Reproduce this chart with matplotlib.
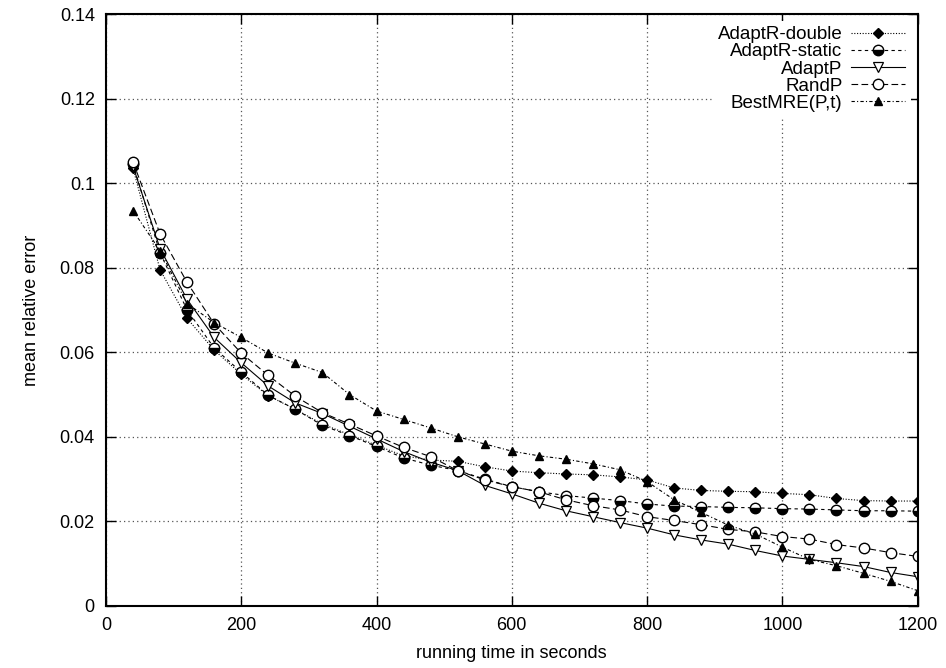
import matplotlib.pyplot as plt

plt.rcParams["font.family"] = ["Liberation Sans", "DejaVu Sans"]

# running time (s)
times = [40, 80, 120, 160, 200, 240, 280, 320, 360, 400,
         440, 480, 520, 560, 600, 640, 680, 720, 760, 800,
         840, 880, 920, 960, 1000, 1040, 1080, 1120, 1160, 1200]

adaptr_double = [0.1035, 0.0795, 0.0680, 0.0605, 0.0548, 0.0497, 0.0465, 0.0430, 0.0405, 0.0380,
                 0.0355, 0.0345, 0.0342, 0.0329, 0.0319, 0.0315, 0.0312, 0.0310, 0.0305, 0.0298,
                 0.0279, 0.0273, 0.0271, 0.0270, 0.0266, 0.0263, 0.0254, 0.0249, 0.0248, 0.0248]

adaptr_static = [0.1045, 0.0835, 0.0700, 0.0610, 0.0553, 0.0498, 0.0465, 0.0427, 0.0403, 0.0377,
                 0.0350, 0.0333, 0.0320, 0.0300, 0.0282, 0.0270, 0.0261, 0.0255, 0.0249, 0.0241,
                 0.0236, 0.0235, 0.0233, 0.0232, 0.0230, 0.0229, 0.0227, 0.0225, 0.0225, 0.0224]

adaptp = [0.1040, 0.0845, 0.0725, 0.0635, 0.0575, 0.0520, 0.0480, 0.0455, 0.0425, 0.0395,
          0.0365, 0.0340, 0.0320, 0.0285, 0.0265, 0.0243, 0.0225, 0.0211, 0.0197, 0.0184,
          0.0168, 0.0156, 0.0146, 0.0131, 0.0118, 0.0110, 0.0102, 0.0093, 0.0079, 0.0069]

randp = [0.1050, 0.0880, 0.0765, 0.0667, 0.0598, 0.0545, 0.0496, 0.0457, 0.0430, 0.0402,
         0.0375, 0.0353, 0.0320, 0.0298, 0.0282, 0.0270, 0.0251, 0.0237, 0.0227, 0.0211,
         0.0202, 0.0192, 0.0181, 0.0175, 0.0164, 0.0158, 0.0145, 0.0137, 0.0126, 0.0117]

best_mre = [0.0935, 0.0840, 0.0715, 0.0670, 0.0635, 0.0598, 0.0574, 0.0552, 0.0500, 0.0461,
            0.0441, 0.0421, 0.0400, 0.0383, 0.0366, 0.0355, 0.0347, 0.0336, 0.0322, 0.0294,
            0.0251, 0.0221, 0.0191, 0.0170, 0.0139, 0.0110, 0.0095, 0.0077, 0.0058, 0.0036]

fig = plt.figure(figsize=(9.46, 6.68), dpi=100)
ax = fig.add_axes([0.112, 0.093, 0.858, 0.886])

lw = 0.8
ax.plot(times, adaptr_double, color="black", lw=lw, linestyle=(0, (1, 1.5)),
        marker="D", markersize=5, markerfacecolor="black", label="AdaptR-double")
ax.plot(times, adaptr_static, color="black", lw=lw, linestyle=(0, (3, 3)),
        marker="o", markersize=7.5, fillstyle="bottom", markerfacecolor="black",
        markerfacecoloralt="white", markeredgewidth=1.0, label="AdaptR-static")
ax.plot(times, adaptp, color="black", lw=lw, linestyle="-",
        marker="v", markersize=7.5, markerfacecolor="white", markeredgewidth=0.9, label="AdaptP")
ax.plot(times, randp, color="black", lw=lw, linestyle=(0, (6, 3)),
        marker="o", markersize=7.5, markerfacecolor="white", markeredgewidth=1.0, label="RandP")
ax.plot(times, best_mre, color="black", lw=lw, linestyle=(0, (3, 2, 1, 2)),
        marker="^", markersize=6, markerfacecolor="black", label="BestMRE(P,t)")

ax.set_xlim(0, 1200)
ax.set_ylim(0, 0.14)
ax.set_xticks(range(0, 1201, 200))
ax.set_yticks([0, 0.02, 0.04, 0.06, 0.08, 0.1, 0.12, 0.14])
ax.set_yticklabels(["0", "0.02", "0.04", "0.06", "0.08", "0.1", "0.12", "0.14"])
ax.tick_params(direction="in", length=7, width=1, top=True, right=True, labelsize=13, pad=8)
for s in ax.spines.values():
    s.set_linewidth(1.5)

ax.grid(True, color="#555555", linestyle=(0, (1, 2.5)), linewidth=0.9)
ax.set_axisbelow(True)

ax.set_xlabel("running time in seconds", fontsize=13, labelpad=8)
ax.set_ylabel("mean relative error", fontsize=13, labelpad=14)

leg = ax.legend(loc="upper right", markerfirst=False, fontsize=13.5, handlelength=2.9,
                labelspacing=0.0, handletextpad=0.45, borderaxespad=0.35,
                frameon=True, fancybox=False, framealpha=1, borderpad=0.3)
leg.get_frame().set_edgecolor("none")
leg.get_frame().set_facecolor("white")

plt.savefig("out.png", dpi=100)
